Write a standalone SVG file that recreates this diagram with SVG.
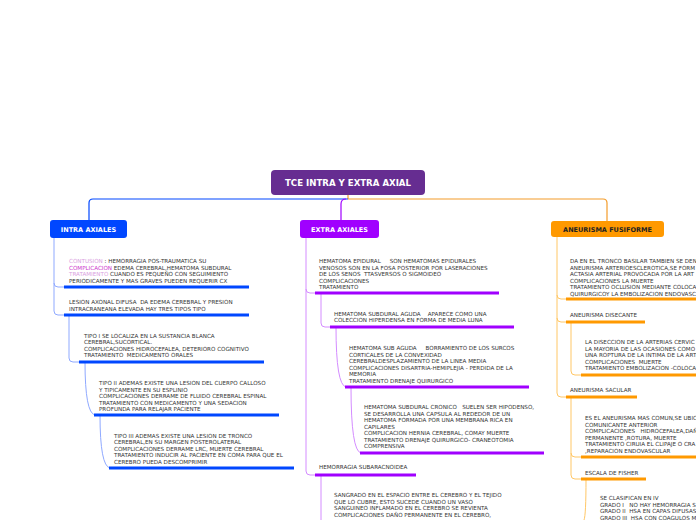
<svg xmlns="http://www.w3.org/2000/svg" width="696" height="520" viewBox="0 0 696 520">
<style>
.t{font-family:"DejaVu Sans",Verdana,sans-serif;font-size:5.6px;fill:#333;white-space:pre}
.h{font-family:"DejaVu Sans",Verdana,sans-serif;font-weight:bold;fill:#fff}
.cb{fill:none;stroke:#8fa9ff;stroke-width:1}
.cp{fill:none;stroke:#d48cff;stroke-width:1}
.co{fill:none;stroke:#ffc766;stroke-width:1}
.ub{stroke:#0047ff;stroke-width:3}
.up{stroke:#a000ff;stroke-width:3}
.uo{stroke:#ff9900;stroke-width:3}
.pk{fill:#d9a0e0}
.mg{fill:#cc33cc}
</style>
<rect width="696" height="520" fill="#fff"/>
<g id="connectors">
<path d="M348 195 V199" stroke="#f39c2a" stroke-width="1.2" fill="none"/>
<path d="M348 199 H93 Q89 199 89 203 V221" stroke="#0047ff" stroke-width="1.2" fill="none"/>
<path d="M348 199 H603 Q607 199 607 203 V221" stroke="#f39c2a" stroke-width="1.2" fill="none"/>
<path d="M346 199 Q341 199 341 204 V221" stroke="#a000ff" stroke-width="1.2" fill="none"/>
<path class="cb" d="M54 238 V283 Q54 287 58 287 H64"/>
<path class="cb" d="M54 283 V311 Q54 315 58 315 H64"/>
<path class="cb" d="M69 315 V358 Q69 362 73 362 H79"/>
<path class="cb" d="M85 362 Q85 413 95 415"/>
<path class="cb" d="M100 415 Q100 466 110 468"/>
<path class="cp" d="M306 238 V289 Q306 293 310 293 H315"/>
<path class="cp" d="M306 289 V471 Q306 475 310 475 H315"/>
<path class="cp" d="M321 293 V323 Q321 327 325 327 H330"/>
<path class="cp" d="M336 327 Q336 385 346 387"/>
<path class="cp" d="M351 387 Q351 451 361 453"/>
<path class="cp" d="M321 475 V520"/>
<path class="co" d="M557 237 V295 Q557 299 561 299 H566"/>
<path class="co" d="M557 295 V318 Q557 322 561 322 H566"/>
<path class="co" d="M557 318 V393 Q557 397 561 397 H566"/>
<path class="co" d="M571 322 V371 Q571 375 575 375 H581"/>
<path class="co" d="M571 397 V453 Q571 457 575 457 H581"/>
<path class="co" d="M571 453 V475 Q571 479 575 479 H581"/>
<path class="co" d="M586 479 Q586 515 584 520"/>
</g>
<g id="root">
<rect x="271" y="170" width="154" height="25" rx="4" fill="#662d91"/>
<text class="h" x="348" y="186" font-size="8.6" text-anchor="middle">TCE INTRA Y EXTRA AXIAL</text>
</g>
<g id="intra">
<rect x="50" y="220" width="77" height="18" rx="3" fill="#0047ff"/>
<text class="h" x="88.5" y="231.5" font-size="6.5" text-anchor="middle">INTRA AXIALES</text>
</g>
<g id="extra">
<rect x="300" y="220" width="79" height="18" rx="3" fill="#a000ff"/>
<text class="h" x="339.5" y="231.5" font-size="6.5" text-anchor="middle">EXTRA AXIALES</text>
</g>
<g id="fusiforme">
<rect x="551" y="221" width="113" height="16" rx="3" fill="#ff9900"/>
<text x="607.5" y="231.5" font-size="6.5" text-anchor="middle" font-family="DejaVu Sans,sans-serif" font-weight="bold" fill="#222">ANEURISMA FUSIFORME</text>
</g>
<g id="contusion">
<text class="t" x="69" y="263"><tspan class="pk">CONTUSION</tspan> : HEMORRAGIA POS-TRAUMATICA SU</text>
<text class="t" x="69" y="269.5"><tspan class="mg">COMPLICACION</tspan> EDEMA CEREBRAL,HEMATOMA SUBDURAL</text>
<text class="t" x="69" y="276"><tspan class="pk">TRATAMIENTO</tspan> CUANDO ES PEQUEÑO CON SEGUIMIENTO</text>
<text class="t" x="69" y="282.5">PERIODICAMENTE Y MAS GRAVES PUEDEN REQUERIR CX</text>
<line class="ub" x1="64" y1="287" x2="249" y2="287"/>
</g>
<g id="lesion">
<text class="t" x="69" y="304">LESION AXONAL DIFUSA  DA EDEMA CEREBRAL Y PRESION</text>
<text class="t" x="69" y="310.5">INTRACRANEANA ELEVADA HAY TRES TIPOS TIPO</text>
<line class="ub" x1="64" y1="315" x2="249" y2="315"/>
</g>
<g id="tipo1">
<text class="t" x="84" y="337.5">TIPO I SE LOCALIZA EN LA SUSTANCIA BLANCA</text>
<text class="t" x="84" y="344">CEREBRAL,SUCORTICAL.</text>
<text class="t" x="84" y="350.5">COMPLICACIONES HIDROCEFALEA, DETERIORO COGNITIVO</text>
<text class="t" x="84" y="357">TRATAMIENTO  MEDICAMENTO ORALES</text>
<line class="ub" x1="79" y1="362" x2="264" y2="362"/>
</g>
<g id="tipo2">
<text class="t" x="99" y="385">TIPO II ADEMAS EXISTE UNA LESION DEL CUERPO CALLOSO</text>
<text class="t" x="99" y="391.5">Y TIPICAMENTE EN SU ESPLINIO</text>
<text class="t" x="99" y="398">COMPLICACIONES DERRAME DE FLUIDO CEREBRAL ESPINAL</text>
<text class="t" x="99" y="404.5">TRATAMIENTO CON MEDICAMENTO Y UNA SEDACION</text>
<text class="t" x="99" y="411">PROFUNDA PARA RELAJAR PACIENTE</text>
<line class="ub" x1="94" y1="415" x2="279" y2="415"/>
</g>
<g id="tipo3">
<text class="t" x="114" y="437.5">TIPO III ADEMAS EXISTE UNA LESION DE TRONCO</text>
<text class="t" x="114" y="444">CEREBRAL,EN SU MARGEN POSTEROLATERAL</text>
<text class="t" x="114" y="450.5">COMPLICACIONES DERRAME LRC, MUERTE CEREBRAL</text>
<text class="t" x="114" y="457">TRATAMIENTO INDUCIR AL PACIENTE EN COMA PARA QUE EL</text>
<text class="t" x="114" y="463.5">CEREBRO PUEDA DESCOMPRIMIR</text>
<line class="ub" x1="109" y1="468" x2="294" y2="468"/>
</g>
<g id="epidural">
<text class="t" x="319" y="263">HEMATOMA EPIDURAL     SON HEMATOMAS EPIDURALES</text>
<text class="t" x="319" y="269.5">VENOSOS SON EN LA FOSA POSTERIOR POR LASERACIONES</text>
<text class="t" x="319" y="276">DE LOS SENOS  TTASVERSOS O SIGMOIDEO</text>
<text class="t" x="319" y="282.5">COMPLICACIONES</text>
<text class="t" x="319" y="289">TRATAMIENTO</text>
<line class="up" x1="315" y1="293" x2="499" y2="293"/>
</g>
<g id="subdural-aguda">
<text class="t" x="334" y="315.5">HEMATOMA SUBDURAL AGUDA    APARECE COMO UNA</text>
<text class="t" x="334" y="322">COLECCION HIPERDENSA EN FORMA DE MEDIA LUNA</text>
<line class="up" x1="330" y1="327" x2="514" y2="327"/>
</g>
<g id="sub-aguda">
<text class="t" x="349" y="350">HEMATOMA SUB AGUDA     BORRAMIENTO DE LOS SURCOS</text>
<text class="t" x="349" y="356.5">CORTICALES DE LA CONVEXIDAD</text>
<text class="t" x="349" y="363">CEREBRALDESPLAZAMIENTO DE LA LINEA MEDIA</text>
<text class="t" x="349" y="369.5">COMPLICACIONES DISARTRIA-HEMIPLEJIA - PERDIDA DE LA</text>
<text class="t" x="349" y="376">MEMORIA</text>
<text class="t" x="349" y="382.5">TRATAMIENTO DRENAJE QUIRURGICO</text>
<line class="up" x1="345" y1="387" x2="529" y2="387"/>
</g>
<g id="cronico">
<text class="t" x="364" y="409">HEMATOMA SUBDURAL CRONICO   SUELEN SER HIPODENSO,</text>
<text class="t" x="364" y="415.5">SE DESARROLLA UNA CAPSULA AL REDEDOR DE UN</text>
<text class="t" x="364" y="422">HEMATOMA FORMADA POR UNA MEMBRANA RICA EN</text>
<text class="t" x="364" y="428.5">CAPILARES</text>
<text class="t" x="364" y="435">COMPLICACION HERNIA CEREBRAL, COMAY MUERTE</text>
<text class="t" x="364" y="441.5">TRATAMIENTO DRENAJE QUIRURGICO- CRANEOTOMIA</text>
<text class="t" x="364" y="448">COMPRENSIVA</text>
<line class="up" x1="360" y1="453" x2="544" y2="453"/>
</g>
<g id="subaracnoidea">
<text class="t" x="319" y="469">HEMORRAGIA SUBARACNOIDEA</text>
<line class="up" x1="315" y1="475" x2="416" y2="475"/>
</g>
<g id="sangrado">
<text class="t" x="334" y="497">SANGRADO EN EL ESPACIO ENTRE EL CEREBRO Y EL TEJIDO</text>
<text class="t" x="334" y="503.5">QUE LO CUBRE, ESTO SUCEDE CUANDO UN VASO</text>
<text class="t" x="334" y="510">SANGUINEO INFLAMADO EN EL CEREBRO SE REVIENTA</text>
<text class="t" x="334" y="516.5">COMPLICACIONES DAÑO PERMANENTE EN EL CEREBRO,</text>
</g>
<g id="tronco">
<text class="t" x="570" y="263">DA EN EL TRONCO BASILAR TAMBIEN SE DEN</text>
<text class="t" x="570" y="269.5">ANEURISMA ARTERIOESCLEROTICA,SE FORM</text>
<text class="t" x="570" y="276">ACTASIA ARTERIAL PROVOCADA POR LA ART</text>
<text class="t" x="570" y="282.5">COMPLICACIONES LA MUERTE</text>
<text class="t" x="570" y="289">TRATAMIENTO OCLUSION MEDIANTE COLOCA</text>
<text class="t" x="570" y="295.5">QUIRURGICOY LA EMBOLIZACION ENDOVASC</text>
<line class="uo" x1="566" y1="299" x2="696" y2="299"/>
</g>
<g id="disecante">
<text class="t" x="570" y="317">ANEURISMA DISECANTE</text>
<line class="uo" x1="566" y1="322" x2="645" y2="322"/>
</g>
<g id="diseccion">
<text class="t" x="585" y="344">LA DISECCION DE LA ARTERIAS CERVIC</text>
<text class="t" x="585" y="350.5">LA MAYORIA DE LAS OCASIONES COMO</text>
<text class="t" x="585" y="357">UNA ROPTURA DE LA INTIMA DE LA ART</text>
<text class="t" x="585" y="363.5">COMPLICACIONES  MUERTE</text>
<text class="t" x="585" y="370">TRATAMIENTO EMBOLIZACION -COLOCA</text>
<line class="uo" x1="581" y1="375" x2="696" y2="375"/>
</g>
<g id="sacular">
<text class="t" x="570" y="392">ANEURISMA SACULAR</text>
<line class="uo" x1="566" y1="397" x2="637" y2="397"/>
</g>
<g id="comun">
<text class="t" x="585" y="420">ES EL ANEURISMA MAS COMUN,SE UBIC</text>
<text class="t" x="585" y="426.5">COMUNICANTE ANTERIOR</text>
<text class="t" x="585" y="433">COMPLICACIONES   HIDROCEFALEA,DAÑ</text>
<text class="t" x="585" y="439.5">PERMANENTE ,ROTURA, MUERTE</text>
<text class="t" x="585" y="446">TRATAMIENTO CIRUIA EL CLIPAJE O CRA</text>
<text class="t" x="585" y="452.5">,REPARACION ENDOVASCULAR</text>
<line class="uo" x1="581" y1="457" x2="696" y2="457"/>
</g>
<g id="fisher">
<text class="t" x="585" y="475">ESCALA DE FISHER</text>
<line class="uo" x1="581" y1="479" x2="646" y2="479"/>
</g>
<g id="clasifican">
<text class="t" x="600" y="500">SE CLASIFICAN EN IV</text>
<text class="t" x="600" y="506.5">GRADO I   NO HAY HEMORRAGIA S</text>
<text class="t" x="600" y="513">GRADO II  HSA EN CAPAS DIFUSAS</text>
<text class="t" x="600" y="519.5">GRADO III  HSA CON COAGULOS M</text>
</g>
</svg>
